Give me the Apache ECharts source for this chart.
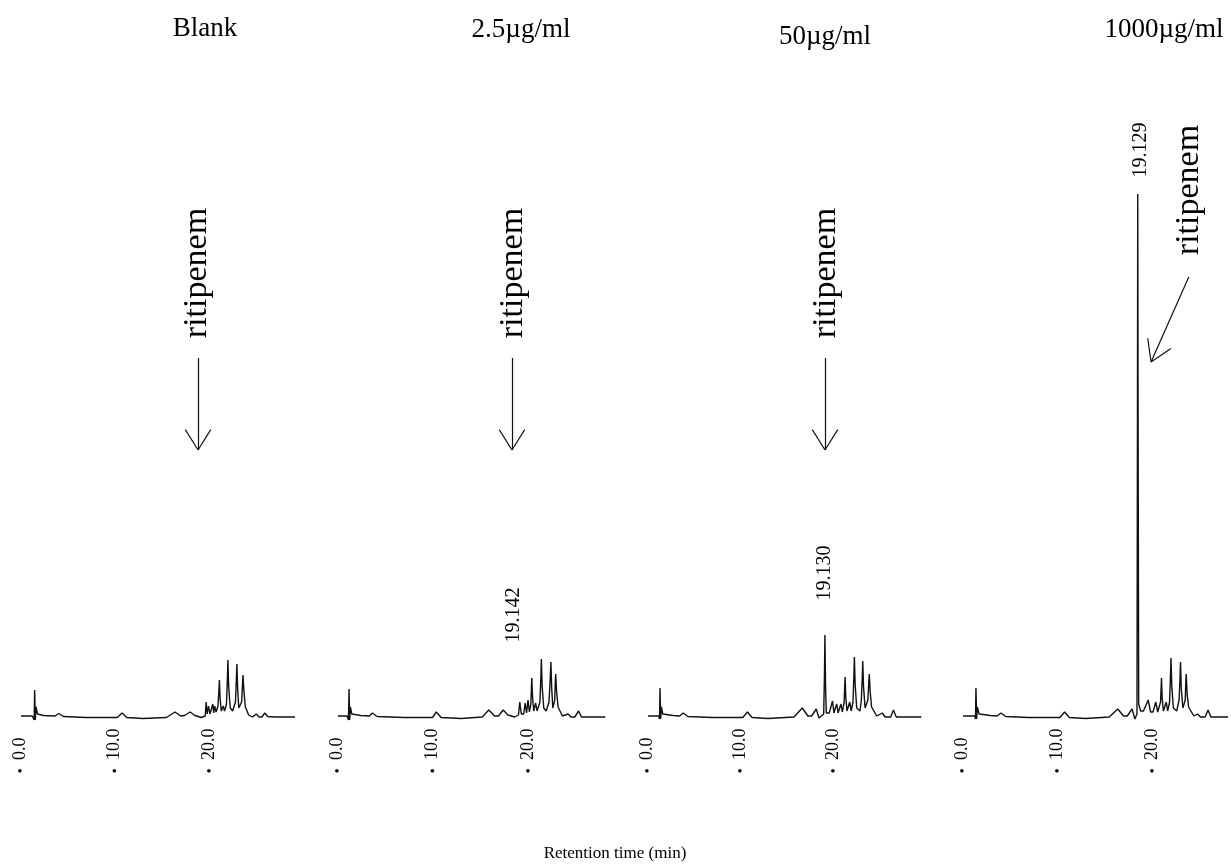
<!DOCTYPE html>
<html>
<head>
<meta charset="utf-8">
<script src="https://cdn.jsdelivr.net/npm/echarts@6/dist/echarts.min.js"></script>
<style>
html,body{margin:0;padding:0;background:#fff;}
#chart{width:1231px;height:866px;}
</style>
</head>
<body>
<div id="chart"></div>
<script>
// ---------------- DATA ----------------
const panelTitles = ['Blank', '2.5µg/ml', '50µg/ml', '1000µg/ml'];
const tickValues = [0, 10, 20];
const tickLabels = ['0.0', '10.0', '20.0'];
const xAxisName = 'Retention time (min)';
const analyteName = 'ritipenem';
const peakRTLabels = [null, '19.142', '19.130', '19.129'];

// [retention time (min), detector signal (arb.)]
const blankTrace = [
  [0.1,0],[1.3,0],[1.5,-4],[1.55,26],[1.62,-4],[1.7,9],[1.85,2],[2.5,0.5],[3.7,0],[4.1,2.5],[4.6,-0.5],
  [7,-1.5],[10.3,-1.5],[10.8,3],[11.3,-1.5],[13,-2.5],[15.5,-1.5],[16.4,4],[17.0,0],[17.4,0.5],[18.0,4],
  [18.5,0.5],[19.2,-1.5],[19.6,0],[19.7,14],[19.8,2],[19.95,10],[20.1,2],[20.4,12],[20.5,3],[20.6,10],
  [20.75,4],[20.95,10],[21.05,26],[21.1,36],[21.17,18],[21.3,5],[21.5,10],[21.65,5],[21.85,12],[21.95,38],
  [22.0,56],[22.08,30],[22.25,8],[22.5,5],[22.8,14],[22.9,38],[22.95,52],[23.03,28],[23.15,8],[23.3,7],
  [23.45,14],[23.55,32],[23.6,41],[23.7,24],[23.85,9],[24.2,1],[24.6,-1],[25.0,2],[25.3,-1],[25.6,-1],
  [25.9,3],[26.2,-0.5],[27,-1],[29.1,-1]
];
const conc2p5Trace = [
  [0.1,0],[1.05,0],[1.2,-4],[1.26,27],[1.33,-4],[1.4,9],[1.55,2],[2.5,0.5],[3.4,0],[3.7,3],[4.2,-0.5],
  [7,-1.5],[10.0,-1.5],[10.4,4],[10.9,-1.5],[13,-2.5],[15.2,-1],[15.9,6],[16.5,0],[16.9,0],[17.4,6],
  [17.9,1],[18.6,-1],[19.0,1],[19.14,14],[19.3,2],[19.55,2],[19.7,13],[19.85,3],[20.0,16],[20.15,4],
  [20.3,12],[20.36,28],[20.4,38],[20.47,20],[20.6,5],[20.8,13],[20.95,5],[21.25,14],[21.35,40],[21.4,57],
  [21.48,30],[21.65,8],[21.9,5],[22.2,14],[22.33,38],[22.4,54],[22.48,28],[22.6,8],[22.7,7],[22.8,16],
  [22.85,32],[22.9,42],[23.0,24],[23.15,9],[23.6,0],[24.2,2],[24.5,-1],[24.9,-1],[25.3,5],[25.6,-1],
  [26.5,-1],[28.1,-1]
];
const conc50Trace = [
  [0.1,0],[1.25,0],[1.35,-3],[1.4,28],[1.47,-3],[1.55,9],[1.7,2],[2.8,0.5],[3.5,0],[3.9,3],[4.4,-0.5],
  [7,-1.5],[10.3,-1.5],[10.8,4],[11.3,-1.5],[13,-2.5],[15.8,-1],[16.7,8],[17.3,0],[17.7,0],[18.2,7],
  [18.5,-2],[19.0,2],[19.08,40],[19.13,81],[19.2,30],[19.28,3],[19.6,3],[19.95,15],[20.1,3],[20.4,12],
  [20.55,3],[20.85,12],[21.0,4],[21.2,14],[21.26,30],[21.3,39],[21.37,20],[21.5,5],[21.8,14],[21.95,5],
  [22.15,14],[22.25,42],[22.3,59],[22.38,32],[22.55,8],[22.9,5],[23.05,16],[23.15,40],[23.2,55],[23.28,30],
  [23.45,8],[23.6,7],[23.75,16],[23.85,34],[23.9,42],[24.0,24],[24.15,9],[24.7,0],[25.3,3],[25.6,-1],
  [26.2,-1],[26.5,6],[26.8,-1],[27.5,-1],[29.5,-1]
];
const conc1000Trace = [
  [0.1,0],[1.35,0],[1.42,-3],[1.47,28],[1.54,-3],[1.62,9],[1.8,2],[3.0,0.5],[3.7,0],[4.1,3],[4.6,-0.5],
  [7,-1.5],[10.3,-1.5],[10.8,4],[11.3,-1.5],[13,-2.5],[15.5,-1],[16.4,7],[17.0,0],[17.4,0],[17.9,7],
  [18.2,-3],[18.42,2],[18.47,300],[18.5,522],[18.54,280],[18.6,12],[18.8,5],[19.1,5],[19.6,16],[19.85,4],
  [20.1,4],[20.4,14],[20.6,4],[20.9,14],[20.96,28],[21.0,38],[21.07,18],[21.2,5],[21.5,14],[21.65,5],
  [21.85,14],[21.95,42],[22.0,58],[22.08,30],[22.25,8],[22.6,5],[22.85,16],[22.95,38],[23.0,54],[23.08,28],
  [23.25,8],[23.4,7],[23.5,16],[23.55,32],[23.6,42],[23.7,22],[23.85,9],[24.4,0],[24.8,2],[25.1,-1],
  [25.6,-1],[25.9,6],[26.2,-1],[27,-1],[28.0,-1]
];
const traces = [blankTrace, conc2p5Trace, conc50Trace, conc1000Trace];

// ---------------- LAYOUT ----------------
const FONT = "'Liberation Serif', 'Times New Roman', serif";
const panels = [
  {left: 20,  ppm: 9.45, xMax: 30},
  {left: 337, ppm: 9.55, xMax: 30},
  {left: 647, ppm: 9.30, xMax: 30},
  {left: 962, ppm: 9.55, xMax: 28}
];
const GRID_TOP = 116, GRID_H = 610, Y_MIN = -10, Y_MAX = 600;
const titlePos = [[205, 29], [521, 30], [825, 37], [1164, 30]];
// annotation positions (data coords of each panel)
const analyteText = [[18.73, 443], [18.43, 443], [19.25, 443], [23.87, 526]];
const arrows = [
  [[18.84, 358], [18.84, 266]],
  [[18.32, 358], [18.32, 266]],
  [[19.14, 358], [19.14, 266]],
  [[23.87, 439], [19.90, 354]]
];
const peakLabelPos = [null, [18.53, 101], [19.14, 143], [18.85, 566]];

function arrowSegments(a, ppm) {
  const [p0, p1] = a;
  const dx = (p1[0] - p0[0]) * ppm, dy = -(p1[1] - p0[1]);
  const L = Math.hypot(dx, dy), ux = dx / L, uy = dy / L;
  const hl = 24, ang = 32 * Math.PI / 180;
  const segs = [[{coord: p0}, {coord: p1}]];
  [ang, -ang].forEach(t => {
    const bx = -(ux * Math.cos(t) - uy * Math.sin(t)) * hl;
    const by = -(ux * Math.sin(t) + uy * Math.cos(t)) * hl;
    segs.push([{coord: p1}, {coord: [p1[0] + bx / ppm, p1[1] - by]}]);
  });
  return segs;
}

const grid = [], xAxis = [], yAxis = [], series = [];
panels.forEach((p, i) => {
  grid.push({left: p.left, top: GRID_TOP, width: p.ppm * p.xMax, height: GRID_H});
  xAxis.push({
    type: 'value', gridIndex: i, min: 0, max: p.xMax, interval: 10,
    axisLine: {show: false}, axisTick: {show: false}, splitLine: {show: false},
    axisLabel: {
      rotate: 90, align: 'left', verticalAlign: 'middle', margin: 34,
      fontFamily: FONT, fontSize: 18, color: '#000',
      formatter: v => { const k = tickValues.indexOf(v); return k >= 0 ? tickLabels[k] : ''; }
    }
  });
  xAxis.push({
    type: 'value', gridIndex: i, min: 0, max: p.xMax, interval: 10, position: 'bottom', offset: 46,
    axisLine: {show: false}, axisTick: {show: false}, splitLine: {show: false},
    axisLabel: {
      margin: 0, verticalAlign: 'middle', fontFamily: FONT, fontSize: 15, color: '#000',
      formatter: v => tickValues.indexOf(v) >= 0 ? '•' : ''
    }
  });
  yAxis.push({type: 'value', gridIndex: i, min: Y_MIN, max: Y_MAX, show: false});

  const mpData = [{
    coord: analyteText[i],
    label: {formatter: analyteName, fontSize: 34}
  }];
  if (peakRTLabels[i]) {
    mpData.push({coord: peakLabelPos[i], label: {formatter: peakRTLabels[i], fontSize: 20}});
  }
  series.push({
    type: 'line', xAxisIndex: 2 * i, yAxisIndex: i, data: traces[i],
    showSymbol: false, symbol: 'none', animation: false, clip: false,
    lineStyle: {color: '#111', width: 1.4},
    markLine: {
      silent: true, symbol: ['none', 'none'], animation: false,
      lineStyle: {color: '#111', width: 1.2, type: 'solid'},
      label: {show: false},
      data: arrowSegments(arrows[i], panels[i].ppm)
    },
    markPoint: {
      silent: true, symbol: 'circle', symbolSize: 0, animation: false,
      itemStyle: {color: 'transparent'},
      label: {show: true, position: 'inside', rotate: 90, fontFamily: FONT, color: '#000'},
      data: mpData
    }
  });
});

const graphic = panelTitles.map((t, i) => ({
  type: 'text', x: titlePos[i][0], y: titlePos[i][1],
  style: {text: t, font: `27px ${FONT}`, fill: '#000', align: 'center', verticalAlign: 'middle'}
}));
graphic.push({
  type: 'text', x: 615, y: 854,
  style: {text: xAxisName, font: `17px ${FONT}`, fill: '#000', align: 'center', verticalAlign: 'middle'}
});

const chart = echarts.init(document.getElementById('chart'), null, {renderer: 'canvas'});
chart.setOption({
  backgroundColor: '#fff',
  animation: false,
  grid, xAxis, yAxis, series, graphic
});
</script>
</body>
</html>
